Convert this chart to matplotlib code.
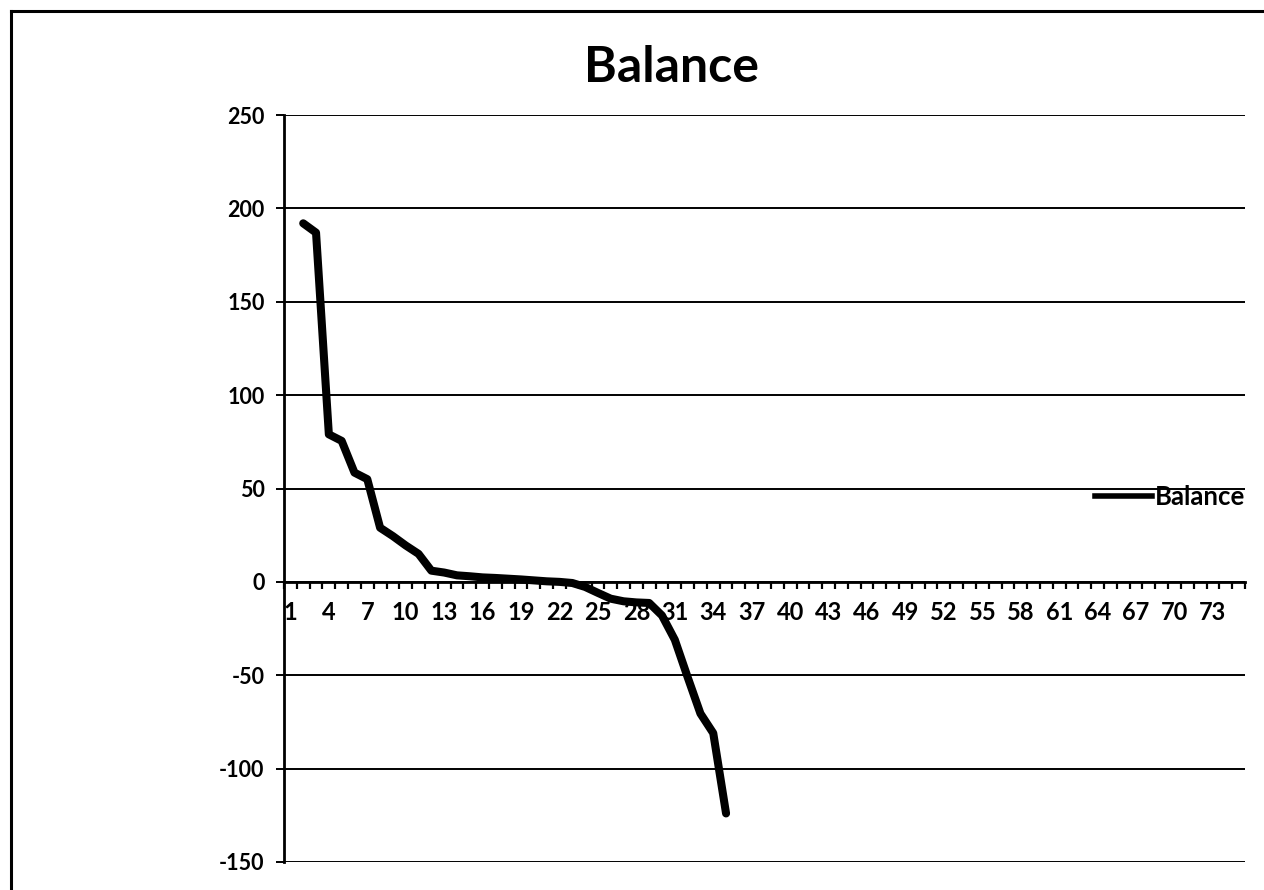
import numpy as np
import matplotlib
matplotlib.use("Agg")
import matplotlib.pyplot as plt
from matplotlib.lines import Line2D

plt.rcParams['font.family'] = ['Lato', 'DejaVu Sans']
plt.rcParams['font.weight'] = 'bold'
plt.rcParams['xtick.labelsize'] = 17
plt.rcParams['ytick.labelsize'] = 15.5

title = "Balance"
series_name = "Balance"
categories = list(range(1, 76))
balance = [np.nan, 192, 187, 79, 75.5, 58.5, 55, 29, 24.5, 19.5,
           15, 6, 5, 3.5, 3, 2.4, 2.1, 1.7, 1.3, 0.8,
           0.3, 0, -0.6, -2.7, -5.9, -9, -10.4, -11, -11.3, -18,
           -31, -51, -70.5, -81, -124]
balance = balance + [np.nan] * (len(categories) - len(balance))
y_ticks = [-150, -100, -50, 0, 50, 100, 150, 200, 250]
x_label_every = 3

W, H = 1264, 890
fig = plt.figure(figsize=(W / 100, H / 100), dpi=100)

# outer frame (top and left edges visible)
fig.add_artist(Line2D([11 / W, 1.0], [1 - 11 / H, 1 - 11 / H], color='black', lw=2.2,
                      transform=fig.transFigure))
fig.add_artist(Line2D([11 / W, 11 / W], [1 - 11 / H, 0.0], color='black', lw=2.2,
                      transform=fig.transFigure))

ax = fig.add_axes([284 / W, 1 - 862 / H, (1245 - 284) / W, (862 - 115) / H])

line, = ax.plot(categories, balance, color='black', lw=5.8, solid_capstyle='round',
                solid_joinstyle='round', label=series_name)

ax.set_xlim(0.5, len(categories) + 0.5)
ax.set_ylim(-150, 250)
ax.set_yticks(y_ticks)
ax.set_yticklabels([str(v) for v in y_ticks])
ax.yaxis.grid(True, color='black', lw=1.4)
ax.set_axisbelow(True)

ax.set_xticks(categories[::x_label_every])
ax.set_xticklabels([str(c) for c in categories[::x_label_every]])
ax.set_xticks(np.arange(0.5, len(categories) + 1, 1.0), minor=True)
ax.tick_params(axis='x', which='major', length=0, pad=14)
ax.tick_params(axis='x', which='minor', length=5, width=1.6, direction='out', color='black')
ax.tick_params(axis='y', which='major', length=6, width=1.4, direction='out', pad=8)

ax.spines['bottom'].set_position(('data', 0))
ax.spines['bottom'].set_linewidth(2.0)
ax.spines['left'].set_linewidth(2.0)
ax.spines['top'].set_visible(False)
ax.spines['right'].set_visible(False)

fig.text(672 / W, 1 - 68 / H, title, ha='center', va='center', fontsize=36,
         fontweight='bold')

leg = fig.legend(handles=[Line2D([0], [0], color='black', lw=4)], labels=[series_name],
                 loc='center left', bbox_to_anchor=(1095 / W, 1 - 497 / H),
                 frameon=False, fontsize=18.5, handlelength=2.2, handletextpad=0.12,
                 borderpad=0, borderaxespad=0)

fig.savefig('out.png', dpi=100, facecolor='white')
